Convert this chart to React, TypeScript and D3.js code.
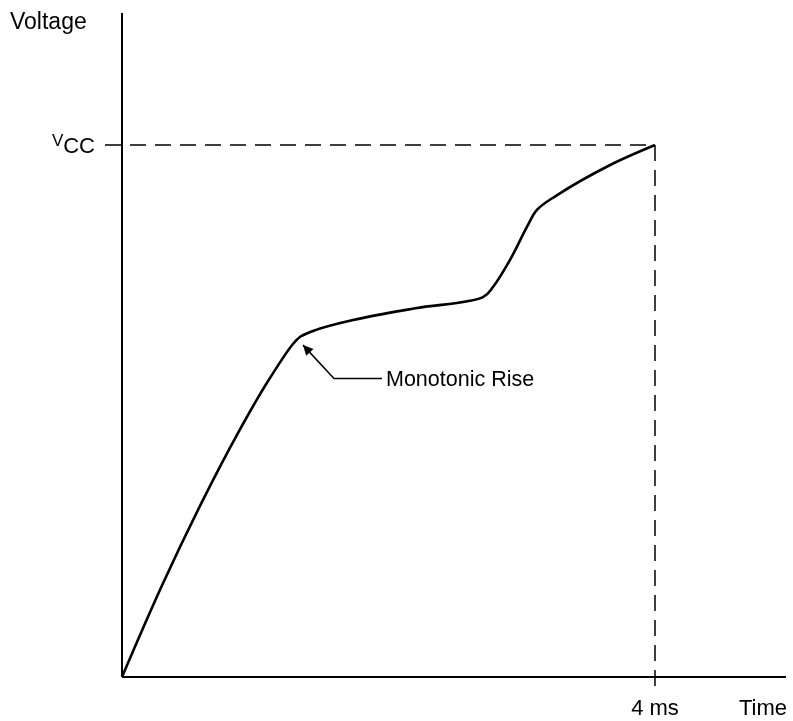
import React, { useRef, useEffect } from 'react';
import * as d3 from 'd3';

// time in ms, voltage as a fraction of Vcc
const times = [0, 0.3, 0.608, 0.871, 1.088, 1.283, 1.34, 1.45, 1.734, 2.2, 2.709, 2.784, 2.912, 3.039, 3.114, 3.26, 3.66, 4];
const volts = [0, 0.172, 0.333, 0.459, 0.553, 0.626, 0.64, 0.652, 0.671, 0.693, 0.714, 0.733, 0.784, 0.846, 0.878, 0.905, 0.962, 1];
const tickTimes = [4];
const tickLabels = ['4 ms'];
const annotation = { label: 'Monotonic Rise', t: 1.336, v: 0.637 };

const App = () => {
  const ref = useRef<SVGSVGElement>(null);

  useEffect(() => {
    const width = 793;
    const height = 721;
    const x = d3.scaleLinear().domain([0, 4]).range([122, 655]);
    const y = d3.scaleLinear().domain([0, 1]).range([677, 145]);

    const svg = d3.select(ref.current);
    svg.selectAll('*').remove();
    svg.attr('width', width).attr('height', height);

    const font = 'Arial, "Liberation Sans", sans-serif';

    svg.append('defs').append('marker')
      .attr('id', 'arrow')
      .attr('viewBox', '0 0 10 10')
      .attr('refX', 10).attr('refY', 5)
      .attr('markerWidth', 14).attr('markerHeight', 10)
      .attr('markerUnits', 'userSpaceOnUse')
      .attr('orient', 'auto')
      .append('path')
      .attr('d', 'M0,0 L10,5 L0,10 z')
      .attr('fill', '#000');

    // axes
    svg.append('line')
      .attr('x1', x(0)).attr('y1', 13).attr('x2', x(0)).attr('y2', y(0))
      .attr('stroke', '#000').attr('stroke-width', 2);
    svg.append('line')
      .attr('x1', x(0)).attr('y1', y(0)).attr('x2', 786).attr('y2', y(0))
      .attr('stroke', '#000').attr('stroke-width', 2);

    // dashed guides
    svg.append('line')
      .attr('x1', 105).attr('y1', y(1)).attr('x2', x(4)).attr('y2', y(1))
      .attr('stroke', '#000').attr('stroke-width', 1.5)
      .attr('stroke-dasharray', '16 9');
    tickTimes.forEach((t, i) => {
      svg.append('line')
        .attr('x1', x(t)).attr('y1', y(1)).attr('x2', x(t)).attr('y2', 693)
        .attr('stroke', '#000').attr('stroke-width', 1.5)
        .attr('stroke-dasharray', '16 9');
      svg.append('text')
        .attr('x', x(t)).attr('y', 715)
        .attr('text-anchor', 'middle')
        .attr('font-family', font).attr('font-size', 22)
        .text(tickLabels[i]);
    });

    // curve
    const line = d3.line<number>()
      .x((d, i) => x(times[i]))
      .y(d => y(d))
      .curve(d3.curveCatmullRom.alpha(0.5));
    svg.append('path')
      .attr('d', line(volts))
      .attr('fill', 'none')
      .attr('stroke', '#000')
      .attr('stroke-width', 2.6);

    // annotation
    const ax = x(annotation.t) + 3;
    const ay = y(annotation.v) + 7;
    svg.append('path')
      .attr('d', `M382,378.5 L334,378.5 L${ax},${ay}`)
      .attr('fill', 'none')
      .attr('stroke', '#000')
      .attr('stroke-width', 1.5)
      .attr('marker-end', 'url(#arrow)');
    svg.append('text')
      .attr('x', 386).attr('y', 386)
      .attr('font-family', font).attr('font-size', 21.5)
      .text(annotation.label);

    // labels
    svg.append('text')
      .attr('x', 10).attr('y', 29)
      .attr('font-family', font).attr('font-size', 23)
      .text('Voltage');
    svg.append('text')
      .attr('x', 787).attr('y', 715)
      .attr('text-anchor', 'end')
      .attr('font-family', font).attr('font-size', 22)
      .text('Time');
    const vcc = svg.append('text')
      .attr('x', 95).attr('y', 153)
      .attr('text-anchor', 'end')
      .attr('font-family', font).attr('font-size', 22);
    vcc.append('tspan').attr('font-size', 17).attr('dy', -7).text('V');
    vcc.append('tspan').attr('dy', 7).text('CC');
  }, []);

  return (
    <div style={{ position: 'fixed', top: 0, left: 0 }}>
      <svg ref={ref} style={{ display: 'block' }} />
    </div>
  );
};

export default App;
